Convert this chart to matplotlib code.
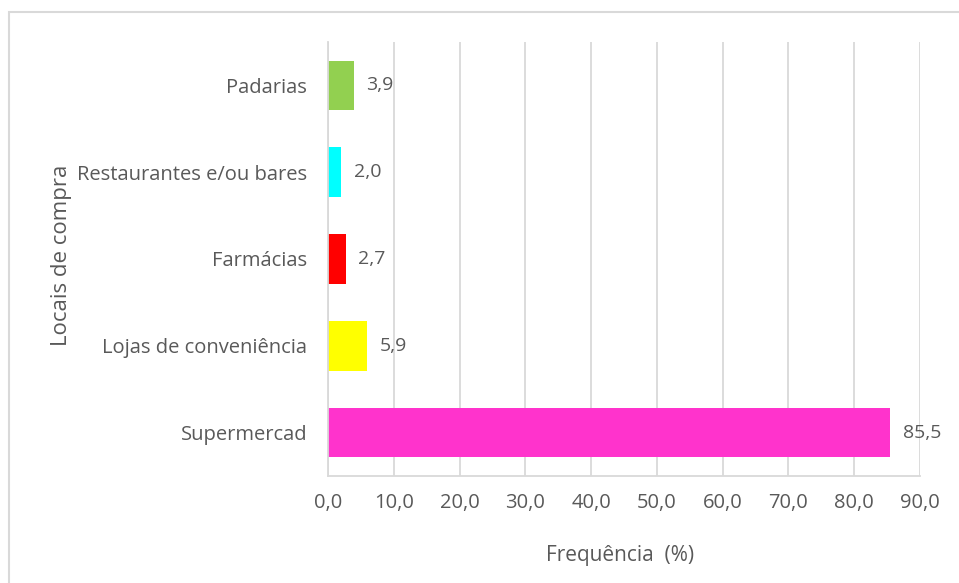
import matplotlib
matplotlib.use("Agg")
import matplotlib.pyplot as plt
from matplotlib.patches import Rectangle

plt.rcParams['font.family'] = ['Open Sans', 'DejaVu Sans']

categories = ["Supermercad", "Lojas de conveniência", "Farmácias",
              "Restaurantes e/ou bares", "Padarias"]
values = [85.5, 5.9, 2.7, 2.0, 3.9]
colors = ["#FF33CC", "#FFFF00", "#FF0000", "#00FFFF", "#92D050"]
value_labels = ["85,5", "5,9", "2,7", "2,0", "3,9"]
xticks = [0, 10, 20, 30, 40, 50, 60, 70, 80, 90]
xtick_labels = ["0,0", "10,0", "20,0", "30,0", "40,0", "50,0",
                "60,0", "70,0", "80,0", "90,0"]

W, H = 959, 583
fig = plt.figure(figsize=(W / 100, H / 100), dpi=100)

# light outer chart frame
fig.patches.append(Rectangle((9 / W, -0.05), 1.0, 1 - 12 / H + 0.05,
                             transform=fig.transFigure, fill=False,
                             edgecolor="#d9d9d9", linewidth=1.5))

ax = fig.add_axes([328 / W, 1 - 476 / H, (920 - 328) / W, 434 / H])
text_color = "#595959"
grid_color = "#d9d9d9"

y = range(len(categories))
ax.barh(y, values, height=0.57, color=colors)

for yi, v, lab in zip(y, values, value_labels):
    ax.annotate(lab, (v, yi), xytext=(9, 0), textcoords="offset points",
                ha="left", va="center", fontsize=14, color=text_color)

ax.set_xlim(0, 90)
ax.set_ylim(-0.5, len(categories) - 0.5)
ax.set_xticks(xticks)
ax.set_xticklabels(xtick_labels)
ax.set_yticks(list(y))
ax.set_yticklabels(categories)
ax.tick_params(axis="both", length=0, colors=text_color)
ax.tick_params(axis="x", pad=12, labelsize=14.5)
ax.tick_params(axis="y", pad=15, labelsize=14.5)

ax.grid(axis="x", color=grid_color, linewidth=1.3)
ax.set_axisbelow(True)
for side in ["top", "right"]:
    ax.spines[side].set_visible(False)
for side in ["left", "bottom"]:
    ax.spines[side].set_color(grid_color)
    ax.spines[side].set_linewidth(1.3)

fig.text(620 / W, 1 - 555 / H, "Frequência  (%)", ha="center", va="center",
         fontsize=15, color=text_color)
fig.text(62 / W, 1 - 255 / H, "Locais de compra", rotation=90,
         ha="center", va="center", fontsize=16, color=text_color)

fig.savefig("out.png", dpi=100)
